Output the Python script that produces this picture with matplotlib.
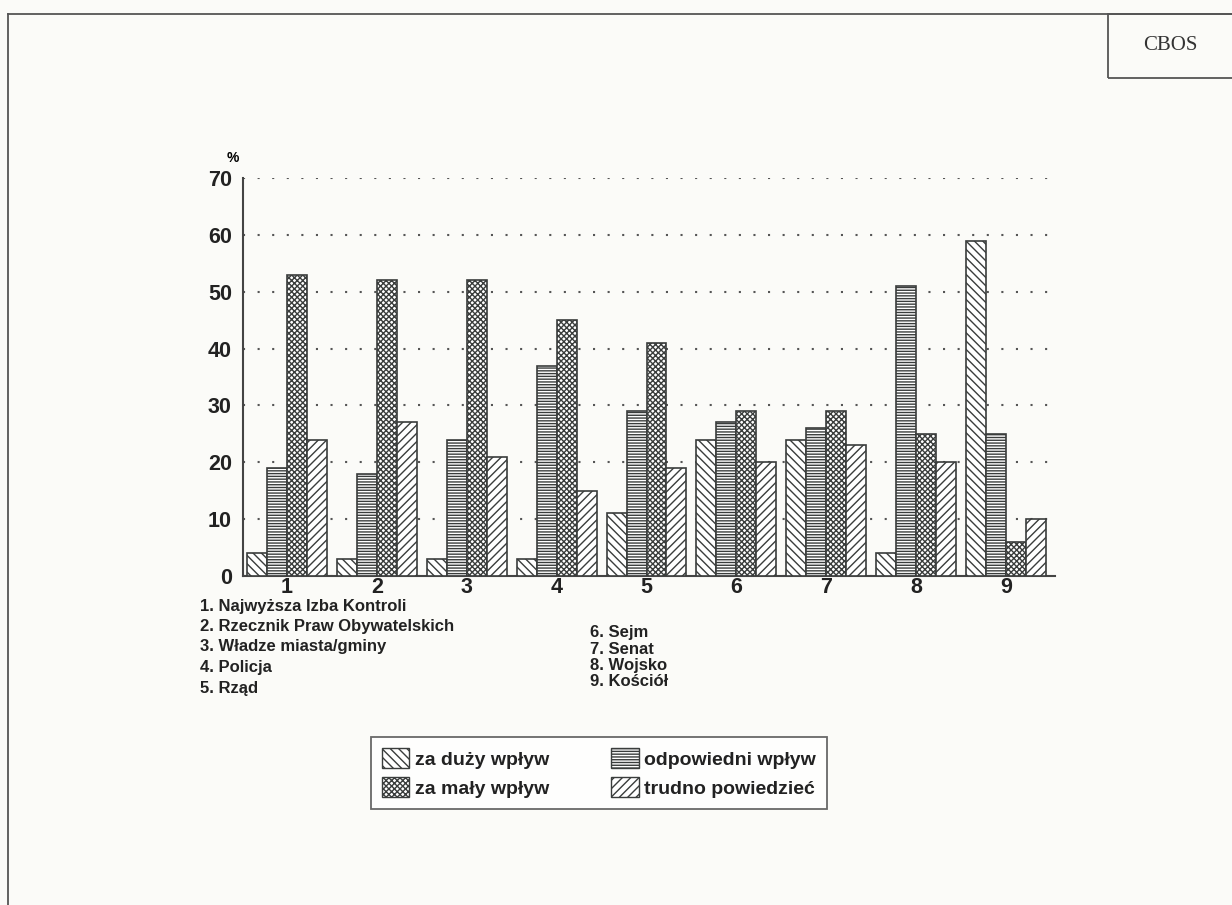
import matplotlib
matplotlib.use("Agg")
import matplotlib.pyplot as plt
import numpy as np
from matplotlib.patches import Patch, Rectangle
from matplotlib.lines import Line2D

OUTPUT_FILE = "out.png"

groups = ["1", "2", "3", "4", "5", "6", "7", "8", "9"]
za_duzy = [4, 3, 3, 3, 11, 24, 24, 4, 59]
odpowiedni = [19, 18, 24, 37, 29, 27, 26, 51, 25]
za_maly = [53, 52, 52, 45, 41, 29, 29, 25, 6]
trudno = [24, 27, 21, 15, 19, 20, 23, 20, 10]

series_names = ["za duży wpływ", "odpowiedni wpływ", "za mały wpływ", "trudno powiedzieć"]
names_left = ["1. Najwyższa Izba Kontroli", "2. Rzecznik Praw Obywatelskich",
              "3. Władze miasta/gminy", "4. Policja", "5. Rząd"]
names_right = ["6. Sejm", "7. Senat", "8. Wojsko", "9. Kościół"]

plt.rcParams["font.family"] = ["Liberation Sans", "DejaVu Sans"]
plt.rcParams["hatch.linewidth"] = 1.0

BG = "#fbfbf8"
EDGE = "#3a3d3c"


def main():
    fig = plt.figure(figsize=(12.32, 9.05), dpi=100, facecolor=BG)

    # page frame and CBOS box
    fig.add_artist(Line2D([8 / 1232, 1], [1 - 14 / 905, 1 - 14 / 905], color="#555", lw=1.3))
    fig.add_artist(Line2D([8 / 1232, 8 / 1232], [0, 1 - 14 / 905], color="#555", lw=1.3))
    fig.add_artist(Rectangle((1108 / 1232, 1 - 78 / 905), 130 / 1232, 64 / 905,
                             fill=False, ec="#555", lw=1.3, transform=fig.transFigure))
    fig.text(1170 / 1232, 1 - 46 / 905, "CBOS", family="Liberation Serif",
             fontsize=15, ha="center", va="center", color="#333")

    ax = fig.add_axes([243 / 1232, 1 - 576 / 905, 812 / 1232, 398 / 905])
    ax.set_facecolor("none")

    x = np.arange(len(groups))
    w = 0.222
    data = [za_duzy, odpowiedni, za_maly, trudno]
    hatches = ["\\\\\\\\", "------", "xxxxxx", "////"]
    for i, (vals, h) in enumerate(zip(data, hatches)):
        ax.bar(x + (i - 1.5) * w, vals, w, color="white", edgecolor=EDGE,
               hatch=h, linewidth=1.2, zorder=3)

    ax.set_ylim(0, 70)
    ax.set_xlim(-0.49, 8.545)
    ax.set_yticks(range(0, 71, 10))
    ax.set_xticks(x)
    ax.set_xticklabels(groups)
    ax.tick_params(axis="y", length=0, labelsize=15.5, pad=8, colors="#222")
    ax.tick_params(axis="x", length=0, labelsize=15.5, pad=1, colors="#222")
    for lbl in ax.get_xticklabels() + ax.get_yticklabels():
        lbl.set_fontweight("bold")
    ax.yaxis.grid(True, linestyle=(0, (1, 6)), color="#555", lw=1.5, zorder=0)
    for s in ["top", "right"]:
        ax.spines[s].set_visible(False)
    ax.spines["left"].set_color("#444")
    ax.spines["bottom"].set_color("#444")
    ax.spines["left"].set_linewidth(1.5)
    ax.spines["bottom"].set_linewidth(1.5)
    ax.text(-0.6, 72.3, "%", fontsize=10, fontweight="bold", ha="center", va="bottom")

    # institution names
    for j, t in enumerate(names_left):
        fig.text(200 / 1232, 1 - (606 + j * 20.5) / 905, t, fontsize=12,
                 fontweight="bold", va="center", color="#222")
    for j, t in enumerate(names_right):
        fig.text(590 / 1232, 1 - (633 + j * 16) / 905, t, fontsize=12,
                 fontweight="bold", va="center", color="#222")

    handles = [Patch(facecolor="white", edgecolor=EDGE, hatch=h, label=n)
               for h, n in zip(hatches, series_names)]
    order = [handles[0], handles[2], handles[1], handles[3]]
    leg = fig.legend(handles=order, loc="center", ncol=2,
                     bbox_to_anchor=(599 / 1232, 1 - 773 / 905),
                     fontsize=14, frameon=True, fancybox=False, shadow=False,
                     handlelength=1.4, handleheight=1.2, handletextpad=0.3,
                     columnspacing=3.2, labelspacing=0.45, borderpad=0.55,
                     borderaxespad=0)
    leg.get_frame().set_edgecolor("#444")
    leg.get_frame().set_linewidth(1.3)
    for t in leg.get_texts():
        t.set_fontweight("bold")
        t.set_color("#222")

    fig.savefig(OUTPUT_FILE, dpi=100, facecolor=BG)


if __name__ == "__main__":
    main()
